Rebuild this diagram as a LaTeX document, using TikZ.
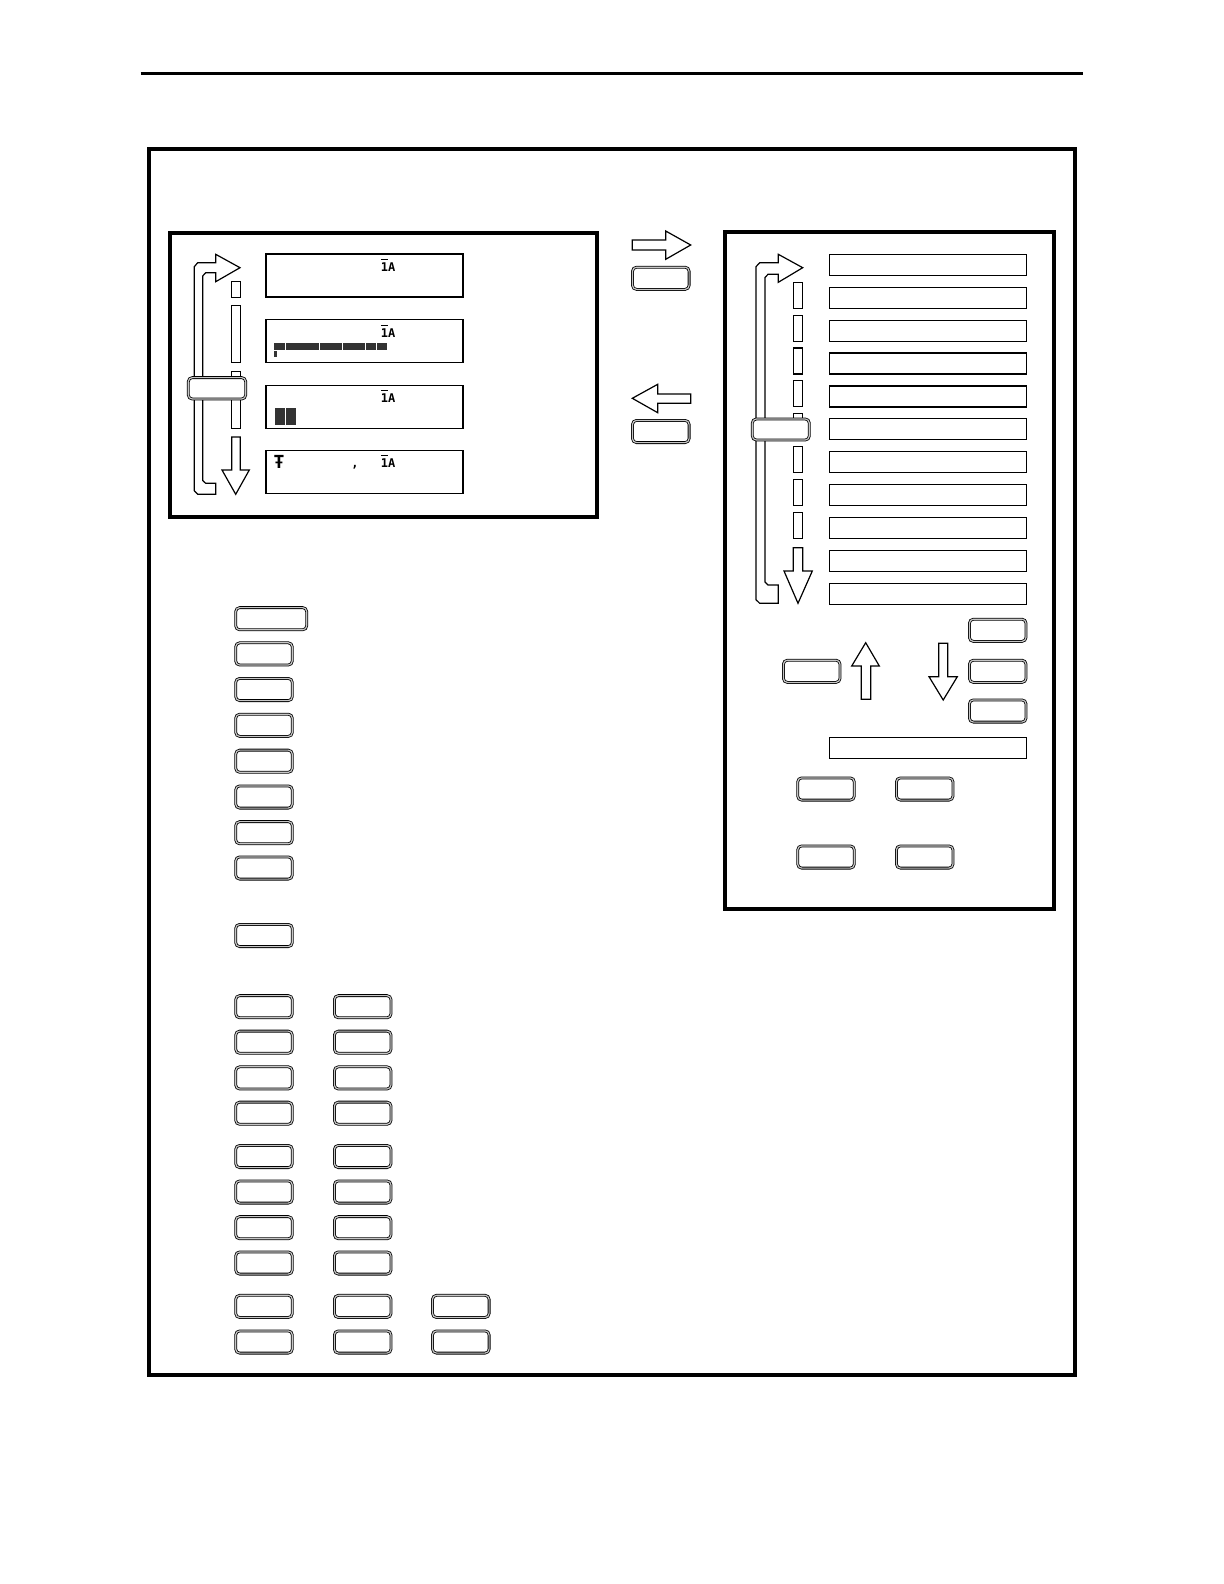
\documentclass[tikz,border=0pt]{standalone}
\usepackage{fontspec}
\newfontfamily\lcdfont{DejaVu Sans Mono}
\usetikzlibrary{positioning}

\begin{document}
\begin{tikzpicture}
[x=0.5pt,y=-0.5pt,
frame/.style={line width=2pt},
key/.style={draw,double=gray!45,double distance=0.6pt,line width=0.4pt,rounded corners=2pt,fill=white,minimum width=28.3pt,minimum height=11.1pt,inner sep=0pt},
lcdbox/.style={draw,line width=0.6pt,minimum width=98.5pt,minimum height=21.5pt,inner sep=0pt},
rowbox/.style={draw,line width=0.6pt,minimum width=98.7pt,minimum height=10.5pt,inner sep=0pt},
blockarrow/.style={draw,line width=0.6pt,fill=white,line join=miter},
seg/.style={draw,line width=0.6pt},
pix/.style={fill=black!80},
lcd/.style={font=\lcdfont\bfseries\fontsize{6}{6}\selectfont,inner sep=0pt}]

\useasboundingbox (0,0) rectangle (1224,1584);

% page rule and frames
\coordinate (ruleL) at (140.7,73.3);
\coordinate (ruleR) at (1082.7,73.3);
\draw[line width=1.7pt] (ruleL) -- (ruleR);
\draw[frame] (148.7,148.7) rectangle (1075.3,1374.7);
\draw[frame] (170.3,233) rectangle (597,517);
\draw[frame] (725.3,232) rectangle (1053.7,909.3);

% display screens
\foreach \y [count=\i] in {275.5,341,407,472}
  \node[lcdbox] (disp\i) at (364.5,\y) {};
\foreach \y [count=\i] in {265,331,396,461}
  \node[lcd] (amp\i) at (388,\y) {$\overline{\mbox{1}}$A};
\foreach \a/\b in {274/285,286/319,320.3/342,343.3/365,366/375.7,376.7/387}
  \fill[pix] (\a,343.3) rectangle (\b,350);
\fill[pix] (274,351) rectangle (276.7,357.3);
\fill[pix] (275,408.3) rectangle (285,425);
\fill[pix] (286,408.3) rectangle (295.7,425);
\node[lcd,font=\lcdfont\bfseries\fontsize{9}{9}\selectfont] (ant) at (279,461.7) {Ŧ};
\node[lcd] (tick) at (355,467) {,};

% left scroll
\draw[blockarrow] (215.7,494.3) -- (197.7,494.3) -- (194.3,490.7) -- (194.3,266.7) -- (197.7,262.7) -- (215.7,262.7) -- (215.7,254.3) -- (240,267.7) -- (215.7,281.7) -- (215.7,272.7) -- (205.7,272.7) -- (202.7,276) -- (202.7,480.5) -- (205.7,483.3) -- (215.7,483.3) -- cycle;
\draw[seg] (231.7,281.7) rectangle (240.3,297.3);
\draw[seg] (231.7,305.3) rectangle (240.3,362.3);
\draw[seg] (231.7,371.7) rectangle (240.3,428.3);
\draw[blockarrow] (231.7,437) -- (240.3,437) -- (240.3,470) -- (249.3,470) -- (235.7,494.3) -- (222,470) -- (231.7,470) -- cycle;
\node[key,minimum width=28.7pt,minimum height=10.7pt] (lknob) at (217,388.3) {};

% page arrows
\draw[blockarrow] (632.3,240) -- (665.7,240) -- (665.7,231) -- (690.7,245) -- (665.7,259.3) -- (665.7,250) -- (632.3,250) -- cycle;
\node[key] (next) at (660.8,278.3) {};
\draw[blockarrow] (690.7,394) -- (657.7,394) -- (657.7,384.3) -- (632.3,398.3) -- (657.7,412.7) -- (657.7,403.3) -- (690.7,403.3) -- cycle;
\node[key] (prev) at (660.8,431.5) {};

% right list
\foreach \i in {0,...,10}
  \node[rowbox] (row\i) at (928,{264.8+32.9*\i}) {};
\draw[blockarrow] (778.3,603.3) -- (759.7,603.3) -- (756,599.7) -- (756,266.7) -- (759.7,262.7) -- (778.3,262.7) -- (778.3,254.3) -- (802.7,267.7) -- (778.3,282.3) -- (778.3,274.3) -- (768,274.3) -- (765,277.5) -- (765,582) -- (768,585) -- (778.3,585) -- cycle;
\foreach \i in {0,...,7}
  \draw[seg] (793.3,{282.3+32.85*\i}) rectangle (802.7,{308.3+32.85*\i});
\draw[blockarrow] (793.3,547.7) -- (802.7,547.7) -- (802.7,571) -- (812.3,571) -- (798,603.3) -- (784,571) -- (793.3,571) -- cycle;
\node[key,minimum width=28.5pt,minimum height=10.5pt] (rknob) at (780.8,429.5) {};

% right keys
\foreach \y [count=\i] in {630.3,671.3,711}
  \node[key] (side\i) at (997.7,\y) {};
\node[key] (enter) at (811.7,671.3) {};
\draw[blockarrow] (861.3,699.3) -- (861.3,666) -- (851.7,666) -- (865.7,642.7) -- (879.3,666) -- (870.7,666) -- (870.7,699.3) -- cycle;
\draw[blockarrow] (938.7,643.3) -- (947.7,643.3) -- (947.7,676.7) -- (957.3,676.7) -- (943.2,700) -- (929,676.7) -- (938.7,676.7) -- cycle;
\node[rowbox] (field) at (928,747.8) {};
\node[key] (ok1) at (826,789) {};
\node[key] (ok2) at (924.7,789) {};
\node[key] (ok3) at (826,857) {};
\node[key] (ok4) at (924.7,857) {};

% left key column
\node[key,minimum width=35.5pt] (wide) at (271.2,618.7) {};
\foreach \y [count=\i] in {653.9,689.5,725.3,761.2,797,832.7,868,935.5}
  \node[key] (col\i) at (264,\y) {};

% key grid
\foreach \y [count=\i] in {1006.7,1042.2,1077.9,1113.2,1156.5,1192,1227.7,1263,1306.4,1342}{
  \node[key] (ga\i) at (264,\y) {};
  \node[key] (gb\i) at (362.7,\y) {};
}
\node[key] (gc1) at (460.8,1306.4) {};
\node[key] (gc2) at (460.8,1342) {};
\end{tikzpicture}
\end{document}
